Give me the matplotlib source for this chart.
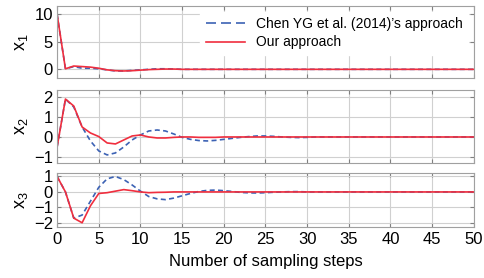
import numpy as np
import matplotlib.pyplot as plt

plt.rcParams['font.family'] = ['Liberation Sans', 'DejaVu Sans']
plt.rcParams['mathtext.fontset'] = 'custom'
plt.rcParams['mathtext.rm'] = 'Liberation Sans'

# --- data ---
steps = np.arange(0, 51)

x1_chen = [10, 0.1, 0.5, 0.2, 0.2, 0.1, -0.1, -0.3, -0.3, -0.2, -0.1, 0.0, 0.1, 0.1, 0.05, 0.0] + [0.0] * 35
x1_ours = [10, 0.1, 0.6, 0.5, 0.4, 0.2, -0.1, -0.25, -0.3, -0.25, -0.15, -0.05, 0.0, 0.05, 0.05, 0.0] + [0.0] * 35

x2_chen = [-0.5, 1.9, 1.5, 0.5, -0.2, -0.7, -0.9, -0.8, -0.5, -0.15, 0.1, 0.3, 0.35, 0.3, 0.15,
           -0.02, -0.12, -0.18, -0.2, -0.17, -0.12, -0.07, -0.02, 0.02, 0.05, 0.05, 0.03, 0.0,
           -0.02, -0.03, -0.02, 0.0] + [0.0] * 19
x2_ours = [-0.5, 1.9, 1.55, 0.5, 0.2, 0.02, -0.3, -0.35, -0.15, 0.05, 0.1, 0.0, -0.05, -0.05, -0.02,
           0.0, 0.0, -0.02, -0.02, -0.02, 0.0] + [0.0] * 30

x3_chen = [1.0, 0.0, -1.7, -1.5, -0.6, 0.3, 0.85, 1.0, 0.8, 0.45, 0.05, -0.3, -0.45, -0.5, -0.4,
           -0.25, -0.1, 0.03, 0.1, 0.12, 0.08, 0.03, -0.03, -0.06, -0.07, -0.05, -0.02, 0.0,
           0.02, 0.02, 0.0] + [0.0] * 20
x3_ours = [1.0, 0.0, -1.7, -2.0, -0.9, -0.1, -0.05, 0.05, 0.15, 0.08, 0.0, -0.05, -0.03, -0.02, 0.0,
           0.0] + [0.0] * 35

blue = '#3c62b4'
red = '#f02e3e'

fig = plt.figure(figsize=(4.84, 2.78), dpi=100)
left, width = 0.118, 0.861
ax1 = fig.add_axes([left, 0.719, width, 0.259])
ax2 = fig.add_axes([left, 0.414, width, 0.262])
ax3 = fig.add_axes([left, 0.182, width, 0.197])

panels = [
    (ax1, x1_chen, x1_ours, r'$\mathregular{x_1}$', (-1.6, 11.5), [0, 5, 10]),
    (ax2, x2_chen, x2_ours, r'$\mathregular{x_2}$', (-1.3, 2.35), [-1, 0, 1, 2]),
    (ax3, x3_chen, x3_ours, r'$\mathregular{x_3}$', (-2.3, 1.25), [-2, -1, 0, 1]),
]

for ax, chen, ours, lab, ylim, yt in panels:
    ax.plot(steps, chen, color=blue, lw=1.2, dashes=(3, 2), label="Chen YG et al. (2014)\u2019s approach")
    ax.plot(steps, ours, color=red, lw=1.2, label='Our approach')
    ax.set_xlim(0, 50)
    ax.set_ylim(*ylim)
    ax.set_yticks(yt)
    ax.set_xticks(np.arange(0, 51, 5))
    ax.set_ylabel(lab, fontsize=13, labelpad=3)
    ax.grid(True, color='#d0d0d0', linewidth=0.8)
    ax.set_axisbelow(True)
    ax.tick_params(direction='in', top=True, right=True, labelsize=12,
                   color='#808080', length=3, pad=3)
    for s in ax.spines.values():
        s.set_color('#a0a0a0')
        s.set_linewidth(0.8)
    if ax is not ax3:
        ax.tick_params(labelbottom=False)

leg = ax1.legend(loc='upper right', fontsize=10, frameon=True, fancybox=False,
                 borderaxespad=0.4, handlelength=2.8, labelspacing=0.3)
leg.get_frame().set_edgecolor('white')
leg.get_frame().set_alpha(1)
leg.legend_handles[0].set_dashes((6, 3))

ax3.set_xlabel('Number of sampling steps', fontsize=12, labelpad=5)

fig.savefig('out.png', dpi=100)
